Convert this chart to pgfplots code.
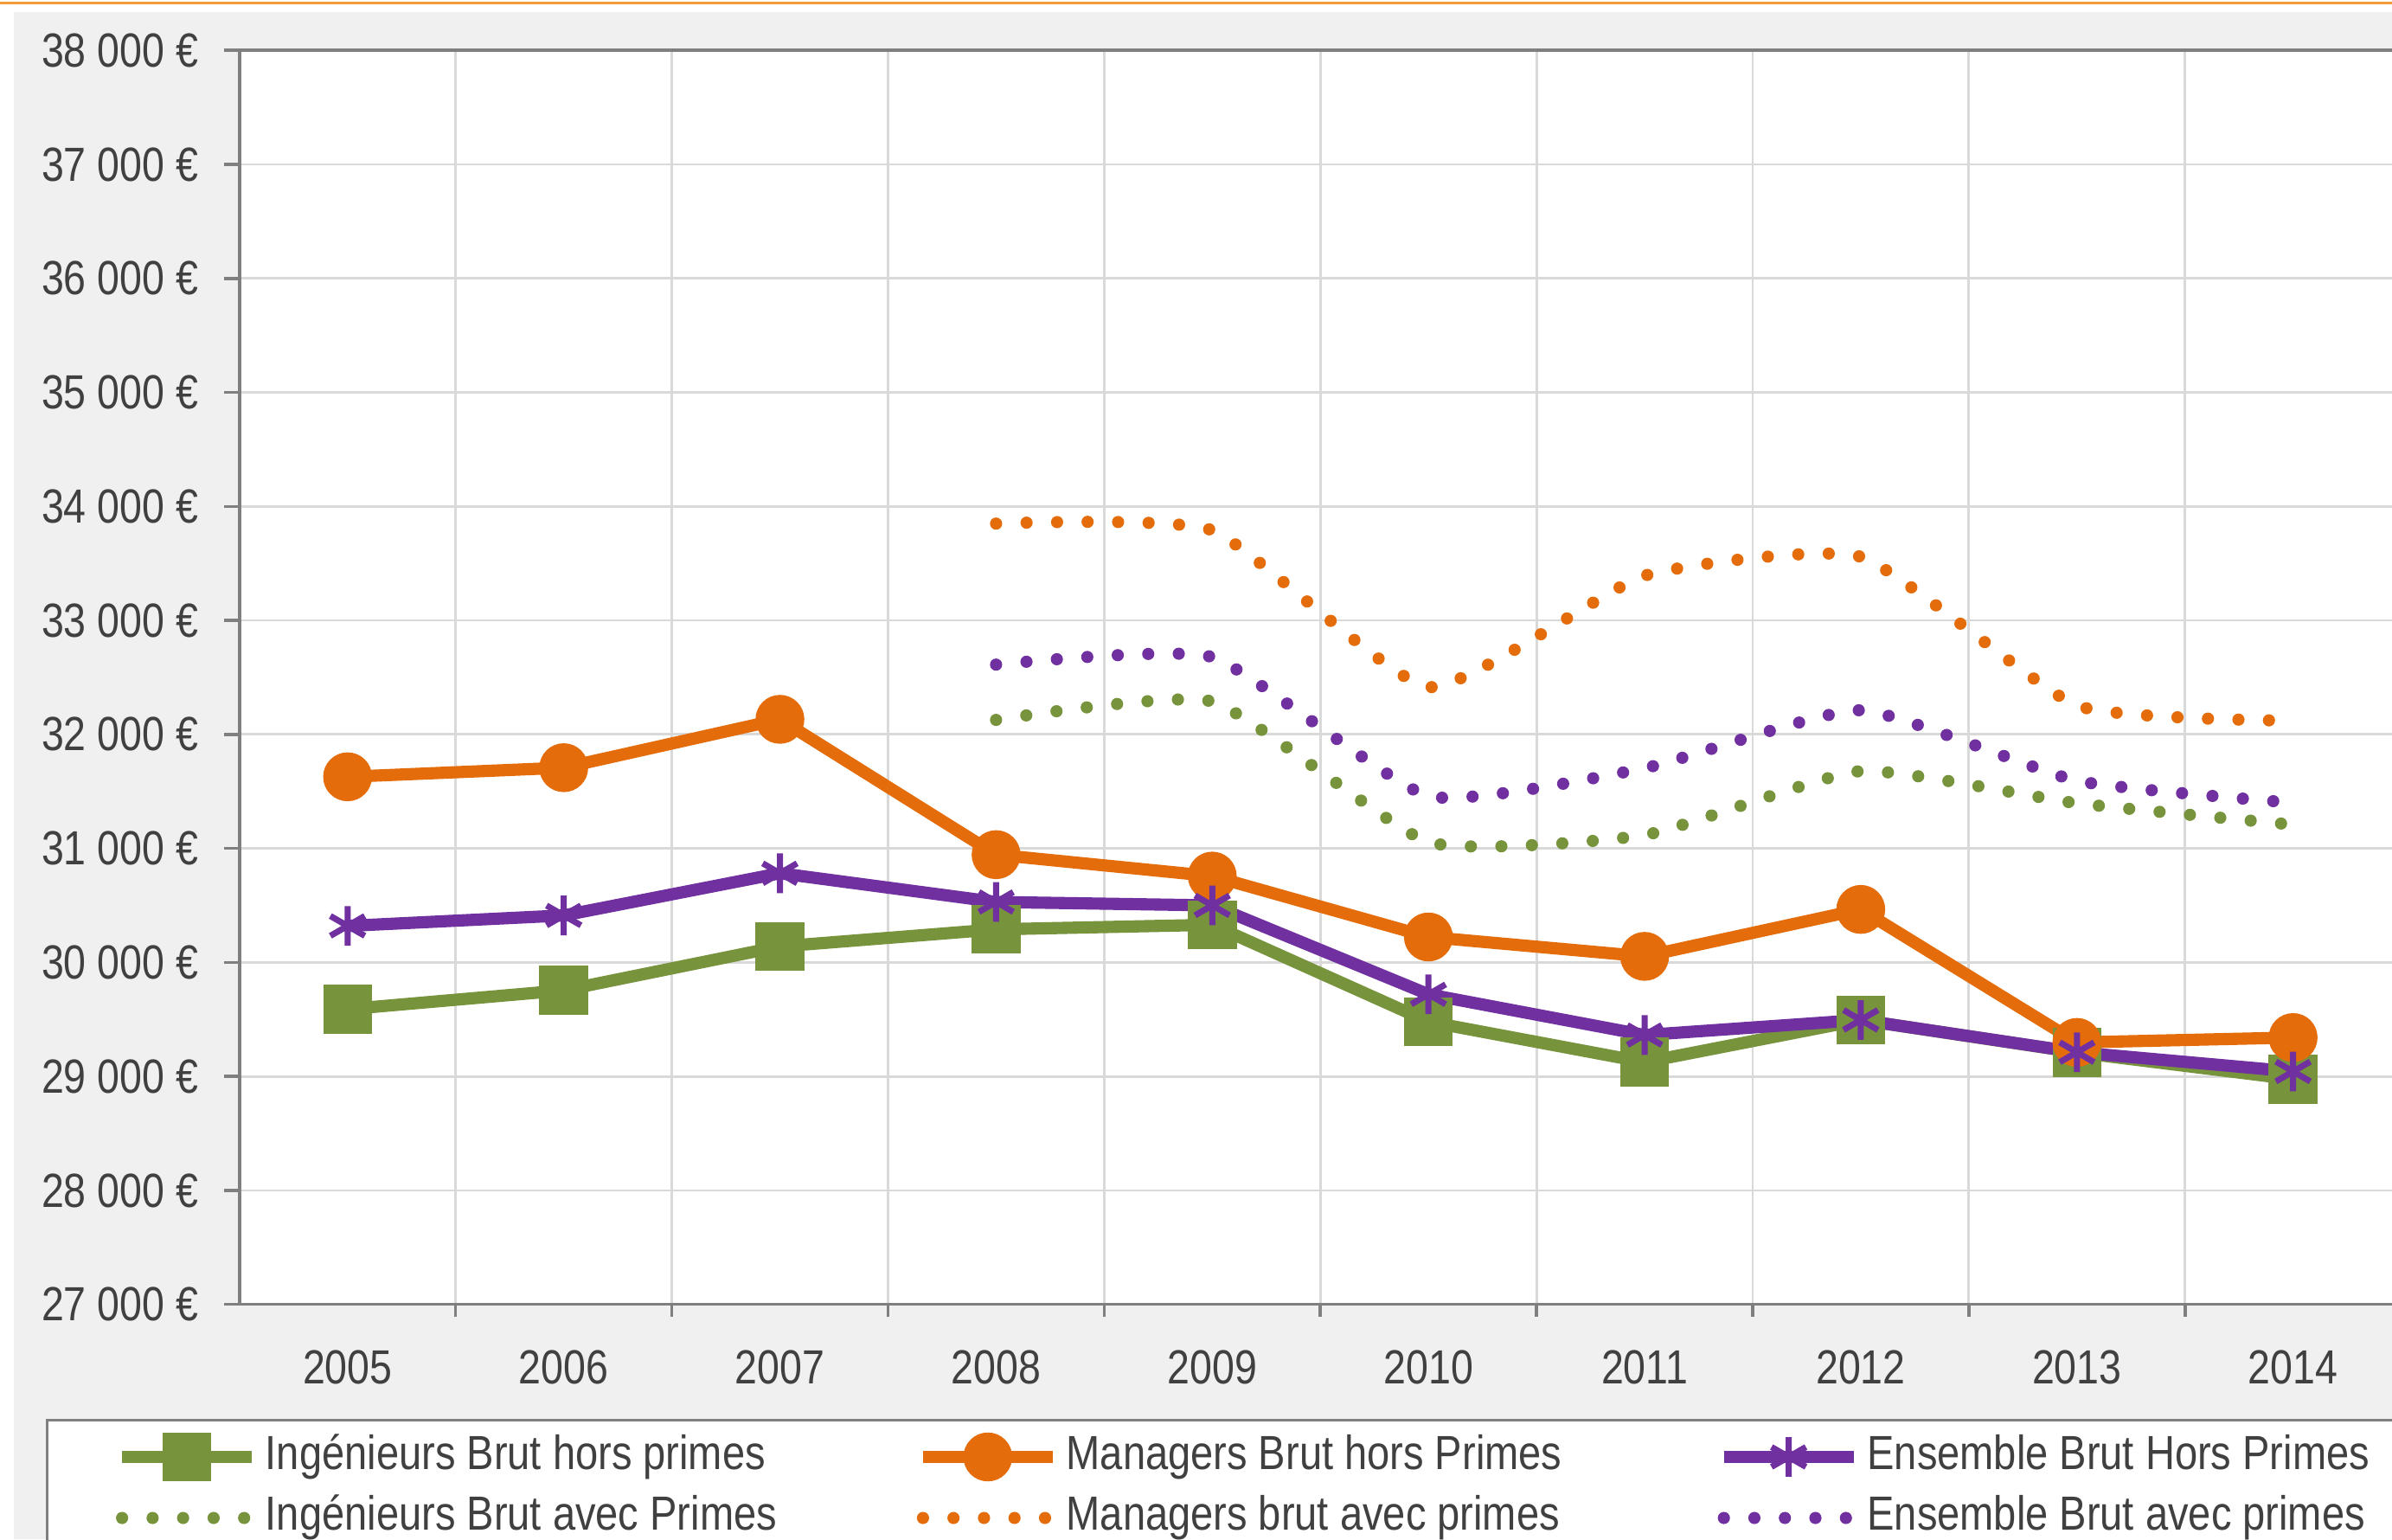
\documentclass[border=0pt]{standalone}
\usepackage{fontspec}
\setmainfont{Liberation Sans}[FakeStretch=0.85]
\newfontfamily\tickfont{Liberation Sans}[FakeStretch=0.84]
\usepackage{pgfplots}
\pgfplotsset{compat=1.18}
\definecolor{vert}{HTML}{77933C}
\definecolor{orng}{HTML}{E46C0A}
\definecolor{viol}{HTML}{7030A0}
\definecolor{grille}{HTML}{D9D9D9}
\definecolor{fond}{HTML}{F0F0F0}
\definecolor{texte}{HTML}{404040}
\definecolor{filet}{HTML}{F39A3B}
\definecolor{cadre}{HTML}{7F7F7F}

\begin{document}
\begin{tikzpicture}
\useasboundingbox (0,0) rectangle (784pt,504.5pt);
\fill[white] (0,0) rectangle (784pt,504.5pt);
\fill[fond] (4.5pt,0) rectangle (784pt,500.5pt);
\draw[filet, line width=1pt] (0,503.5pt) -- (784pt,503.5pt);
\begin{axis}[
  at={(78.5pt,77pt)}, anchor=south west,
  scale only axis, width=708.5pt, height=411pt,
  xmin=2004.5, xmax=2014.5, ymin=27000, ymax=38000,
  scaled x ticks=false, scaled y ticks=false,
  axis background/.style={fill=white},
  axis line style={cadre, line width=1pt},
  xtick={2005,2006,2007,2008,2009,2010,2011,2012,2013,2014},
  xticklabels={2005,2006,2007,2008,2009,2010,2011,2012,2013,2014},
  minor xtick={2005.5,2006.5,2007.5,2008.5,2009.5,2010.5,2011.5,2012.5,2013.5},
  ytick={27000,28000,29000,30000,31000,32000,33000,34000,35000,36000,37000,38000},
  yticklabels={27 000 €,28 000 €,29 000 €,30 000 €,31 000 €,32 000 €,33 000 €,34 000 €,35 000 €,36 000 €,37 000 €,38 000 €},
  xtick pos=bottom, ytick pos=left,
  tick align=outside,
  major tick length=5pt, minor tick length=4pt,
  major x tick style={draw=none},
  tick style={cadre, line width=1pt},
  xmajorgrids=false, xminorgrids=true, ymajorgrids=true,
  major grid style={grille, line width=0.8pt},
  minor grid style={grille, line width=0.8pt},
  tick label style={font=\tickfont\fontsize{15.7}{18}\selectfont, text=texte},
  xticklabel style={yshift=-6.5pt},
  yticklabel style={xshift=-5pt},
  legend columns=3,
  legend cell align=left,
  legend style={at={(-0.0896,-0.0912)}, anchor=north west, draw=cadre, line width=1pt, fill=white,
    inner xsep=22.5pt, inner ysep=5pt, font=\fontsize{15.7}{18}\selectfont, text=texte,
    nodes={inner sep=0pt, text depth=3pt, text height=11pt}, row sep=6pt, column sep=0pt},
  legend image code/.code={\draw[mark repeat=2,mark phase=2,#1] plot coordinates {(0pt,0pt) (21.25pt,0pt) (42.5pt,0pt)};},
]
\addplot[vert, line width=4pt, mark=square*, mark size=6pt, mark options={solid}] coordinates {
  (2005,29590) (2006,29755) (2007,30140) (2008,30290) (2009,30330)
  (2010,29480) (2011,29125) (2012,29495) (2013,29210) (2014,28975)};
\addlegendentry{\makebox[216pt][l]{\hspace{2.5pt}Ingénieurs Brut hors primes}}
\addplot[orng, line width=4pt, mark=*, mark size=6pt, mark options={solid}] coordinates {
  (2005,31628) (2006,31708) (2007,32132) (2008,30945) (2009,30757)
  (2010,30223) (2011,30053) (2012,30465) (2013,29298) (2014,29341)};
\addlegendentry{\makebox[216pt][l]{\hspace{2.5pt}Managers Brut hors Primes}}
\addplot[viol, line width=4pt, mark=asterisk, mark size=6.5pt, mark options={solid, line width=2pt}] coordinates {
  (2005,30320) (2006,30412) (2007,30782) (2008,30530) (2009,30500)
  (2010,29720) (2011,29363) (2012,29495) (2013,29212) (2014,29043)};
\addlegendentry{\makebox[216pt][l]{\hspace{2.5pt}Ensemble Brut Hors Primes}}
\addplot[vert, line width=4pt, line cap=round, dash pattern=on 0pt off 10pt, smooth, tension=0.3] coordinates {
  (2008,32127) (2009,32288) (2010,31056) (2011,31117) (2012,31678) (2013,31396) (2014,31208)};
\addlegendentry{\makebox[216pt][l]{\hspace{2.5pt}Ingénieurs Brut avec Primes}}
\addplot[orng, line width=4pt, line cap=round, dash pattern=on 0pt off 10pt, smooth, tension=0.3] coordinates {
  (2008,33849) (2009,33790) (2010,32415) (2011,33392) (2012,33558) (2013,32253) (2014,32120)};
\addlegendentry{\makebox[216pt][l]{\hspace{2.5pt}Managers brut avec primes}}
\addplot[viol, line width=4pt, line cap=round, dash pattern=on 0pt off 10pt, smooth, tension=0.3] coordinates {
  (2008,32612) (2009,32678) (2010,31459) (2011,31704) (2012,32212) (2013,31593) (2014,31400)};
\addlegendentry{\makebox[216pt][l]{\hspace{2.5pt}Ensemble Brut avec primes}}
\end{axis}
\end{tikzpicture}
\end{document}
